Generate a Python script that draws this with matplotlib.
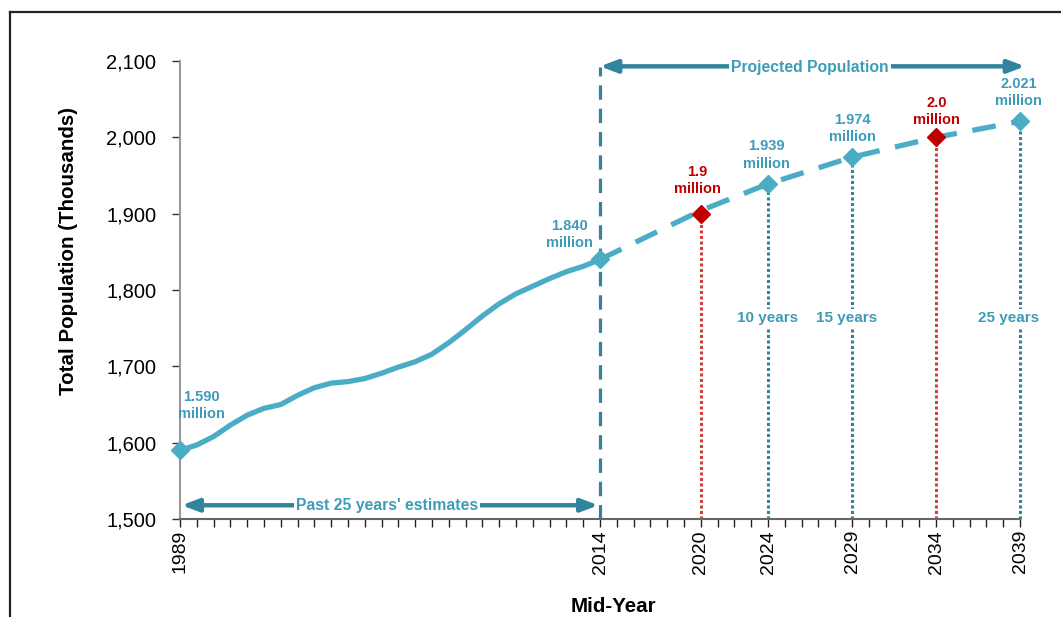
import matplotlib
matplotlib.use("Agg")
import matplotlib.pyplot as plt
from matplotlib.lines import Line2D
from matplotlib.ticker import FuncFormatter, MultipleLocator

plt.rcParams['font.family'] = ['Liberation Sans', 'DejaVu Sans']

# Estimated population, 1989-2014 (thousands)
est_years = list(range(1989, 2015))
est_values = [1590, 1597, 1608, 1623, 1636, 1645, 1650, 1662, 1672, 1678,
              1680, 1684, 1691, 1699, 1706, 1716, 1731, 1748, 1766, 1782,
              1795, 1805, 1815, 1824, 1831, 1840]

# Projected population (thousands)
proj_years = [2014, 2020, 2024, 2029, 2034, 2039]
proj_values = [1840, 1904, 1939, 1974, 2000, 2021]

# Milestone points
blue_years = [1989, 2014, 2024, 2029, 2039]
blue_values = [1590, 1840, 1939, 1974, 2021]
blue_labels = ["1.590\nmillion", "1.840\nmillion", "1.939\nmillion", "1.974\nmillion", "2.021\nmillion"]
red_years = [2020, 2034]
red_values = [1900, 2000]
red_labels = ["1.9\nmillion", "2.0\nmillion"]

horizon_years = [2024, 2029, 2039]
horizon_labels = ["10 years", "15 years", "25 years"]

xtick_years = [1989, 2014, 2020, 2024, 2029, 2034, 2039]

LIGHT = "#4BACC6"
TEAL = "#31849B"
LABEL = "#3E9CB8"
RED = "#C00000"

fig = plt.figure(figsize=(10.61, 6.17), dpi=100)
ax = fig.add_axes([180 / 1061, 1 - 519 / 617, 840 / 1061, 458 / 617])
ax.set_xlim(1989, 2039)
ax.set_ylim(1500, 2100)

# Outer frame
fig.add_artist(Line2D([10 / 1061, 10 / 1061], [0, 1 - 12 / 617], color="#222222", lw=1.6,
                      transform=fig.transFigure))
fig.add_artist(Line2D([10 / 1061, 1.0], [1 - 12 / 617, 1 - 12 / 617], color="#222222", lw=1.6,
                      transform=fig.transFigure))

# Vertical guide lines
ax.plot([2014, 2014], [1500, 2092], color=TEAL, lw=2.3, dashes=(4.5, 2.8), clip_on=False, zorder=2)
for yr, val in zip(red_years, red_values):
    ax.plot([yr, yr], [1500, val], color=RED, lw=2.2, ls=(0, (1, 0.8)), alpha=0.75, zorder=2)
for yr, val in zip(blue_years[2:], blue_values[2:]):
    ax.plot([yr, yr], [1500, val], color=TEAL, lw=2.2, ls=(0, (1, 0.8)), zorder=2, clip_on=False)

# Population lines
ax.plot(est_years, est_values, color=LIGHT, lw=3.8, solid_capstyle="round", zorder=3)
ax.plot(proj_years, proj_values, color=LIGHT, lw=3.8, dashes=(4.5, 3.0), zorder=3)

ax.plot(blue_years, blue_values, ls="none", marker="D", ms=9.5, color=LIGHT, zorder=5, clip_on=False)
ax.plot(red_years, red_values, ls="none", marker="D", ms=9.5, color=RED, zorder=5, clip_on=False)

# Value labels
blue_pos = [(1990.3, 1649), (2012.2, 1873), (2023.9, 1977), (2029.0, 2012), (2038.9, 2059)]
for (x, y), txt in zip(blue_pos, blue_labels):
    ax.text(x, y, txt, color=LABEL, fontsize=10.5, fontweight="bold", ha="center", va="center",
            linespacing=1.3, zorder=6, clip_on=False)
red_pos = [(2019.8, 1943), (2034.05, 2034)]
for (x, y), txt in zip(red_pos, red_labels):
    ax.text(x, y, txt, color=RED, fontsize=10.5, fontweight="bold", ha="center", va="center",
            linespacing=1.3, zorder=6)

horizon_pos = [2023.95, 2028.7, 2038.3]
for x, txt in zip(horizon_pos, horizon_labels):
    ax.text(x, 1763, txt, color=LABEL, fontsize=11, fontweight="bold", ha="center", va="center",
            zorder=6, bbox=dict(facecolor="white", edgecolor="none", pad=1.5))

# Period arrows
arrow = dict(arrowstyle="<|-|>,head_length=1.0,head_width=0.38", color=TEAL, lw=3.2,
             shrinkA=0, shrinkB=0)
ax.annotate("", xy=(1989.1, 1518), xytext=(2013.9, 1518), arrowprops=arrow, zorder=4)
ax.text(2001.3, 1518, "Past 25 years' estimates", color=LABEL, fontsize=11.3, fontweight="bold",
        ha="center", va="center", zorder=6, bbox=dict(facecolor="white", edgecolor="none", pad=1.5))
ax.annotate("", xy=(2014.0, 2093), xytext=(2039.3, 2093), arrowprops=arrow,
            annotation_clip=False, zorder=4)
ax.text(2026.5, 2091, "Projected Population", color=LABEL, fontsize=11.3, fontweight="bold",
        ha="center", va="center", zorder=6, clip_on=False,
        bbox=dict(facecolor="white", edgecolor="none", pad=1.5))

# Axes styling
for s in ("top", "right"):
    ax.spines[s].set_visible(False)
ax.spines["left"].set_color("#999999")
ax.spines["left"].set_linewidth(1.5)
ax.spines["bottom"].set_color("#666666")
ax.spines["bottom"].set_linewidth(1.5)

ax.yaxis.set_major_locator(MultipleLocator(100))
ax.yaxis.set_major_formatter(FuncFormatter(lambda v, p: f"{int(v):,}"))
ax.tick_params(axis="y", length=6, width=1, color="#333333", labelsize=14.5, pad=11)

ax.set_xticks(xtick_years)
ax.set_xticklabels([str(y) for y in xtick_years], rotation=90)
ax.set_xticks(range(1989, 2040), minor=True)
ax.tick_params(axis="x", which="both", length=6, width=1, color="#222222", labelsize=14, pad=2)

ax.set_ylabel("Total Population (Thousands)", fontsize=14.8, fontweight="bold")
ax.yaxis.set_label_coords(-0.121, 0.585)
ax.set_xlabel("Mid-Year", fontsize=14.8, fontweight="bold")
ax.xaxis.set_label_coords(0.516, -0.170)

fig.savefig("out.png", dpi=100, facecolor="white")
